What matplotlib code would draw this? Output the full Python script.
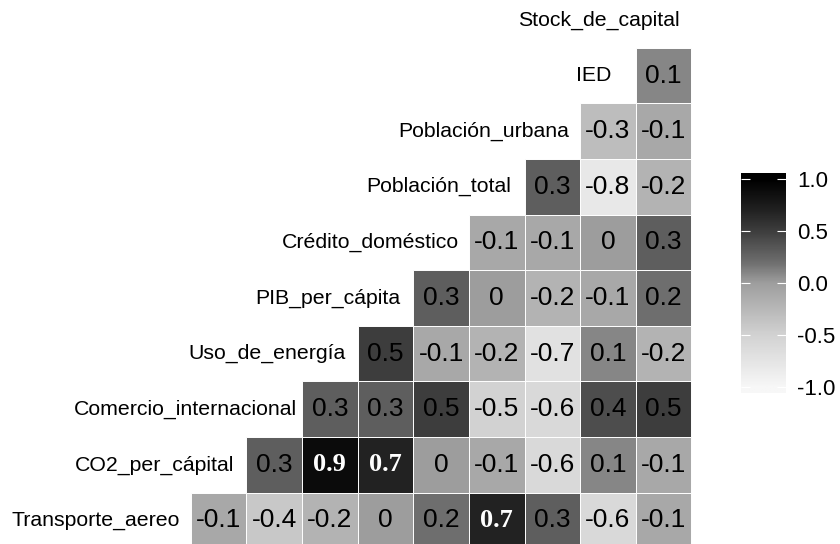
import numpy as np
import matplotlib
matplotlib.use("Agg")
import matplotlib.pyplot as plt
from matplotlib.colors import LinearSegmentedColormap
from matplotlib.transforms import ScaledTranslation

# variable names, bottom row first (diagonal order)
variables = ["Transporte_aereo", "CO2_per_cápital", "Comercio_internacional",
             "Uso_de_energía", "PIB_per_cápita", "Crédito_doméstico",
             "Población_total", "Población_urbana", "IED", "Stock_de_capital"]

# correlations of each variable with the ones after it (upper part of the matrix)
transporte = [-0.1, -0.4, -0.2, 0, 0.2, 0.7, 0.3, -0.6, -0.1]
co2 = [0.3, 0.9, 0.7, 0, -0.1, -0.6, 0.1, -0.1]
comercio = [0.3, 0.3, 0.5, -0.5, -0.6, 0.4, 0.5]
uso_energia = [0.5, -0.1, -0.2, -0.7, 0.1, -0.2]
pib = [0.3, 0, -0.2, -0.1, 0.2]
credito = [-0.1, -0.1, 0, 0.3]
pob_total = [0.3, -0.8, -0.2]
pob_urbana = [-0.3, -0.1]
ied = [0.1]
corr_rows = [transporte, co2, comercio, uso_energia, pib, credito,
             pob_total, pob_urbana, ied, []]

legend_ticks = [-1.0, -0.5, 0.0, 0.5, 1.0]

# grey scale: white (-1) -> grey (0) -> black (1)
cmap = LinearSegmentedColormap.from_list(
    "greys_div",
    [(0.0, "#f7f7f7"), (0.25, "#d2d2d2"), (0.5, "#9e9e9e"),
     (0.6, "#6e6e6e"), (0.75, "#3e3e3e"), (0.85, "#222222"), (1.0, "#000000")])
norm = plt.Normalize(-1, 1)

fig = plt.figure(figsize=(8.4, 5.44), dpi=100)
ax = fig.add_axes([0, 0, 1, 1])
ax.set_xlim(-1.933, 13.174)
ax.set_ylim(0.577, 10.361)
ax.axis("off")

for i, row in enumerate(corr_rows):
    r = i + 1
    for k, v in enumerate(row):
        c = r + 1 + k
        ax.add_patch(plt.Rectangle((c - 0.5, r - 0.5), 1, 1,
                                   facecolor=cmap(norm(v)), edgecolor="white",
                                   linewidth=0.7))
        txt = f"{v:g}"
        if v >= 0.7:
            ax.text(c, r, txt, ha="center", va="center", color="white",
                    fontsize=19, fontweight="bold", family="Liberation Serif")
        else:
            ax.text(c, r, txt, ha="center", va="center", color="black",
                    fontsize=19, family="Liberation Sans")

# diagonal labels, hjust ~0.9 like ggcorr
renderer = fig.canvas.get_renderer()
for i, name in enumerate(variables):
    t = ax.text(i + 1, i + 1, name, ha="right", va="center",
                fontsize=15.3, family="Liberation Sans", color="black")
    w = t.get_window_extent(renderer).width
    t.set_transform(ax.transData + ScaledTranslation(0.1 * w / fig.dpi, 0,
                                                     fig.dpi_scale_trans))

# colour bar
cax = fig.add_axes([741 / 840, 1 - 393 / 544, 45 / 840, 220 / 544])
lim = 1.058
grad = np.linspace(-lim, lim, 300).reshape(-1, 1)
cax.imshow(grad, cmap=cmap, norm=norm, aspect="auto", origin="lower",
           extent=[0, 1, -lim, lim])
cax.set_xlim(0, 1)
cax.set_ylim(-lim, lim)
for s in cax.spines.values():
    s.set_visible(False)
cax.set_xticks([])
cax.set_yticks(legend_ticks)
cax.set_yticklabels([f"{t:.1f}" for t in legend_ticks],
                    fontsize=16, family="Liberation Sans")
cax.tick_params(axis="y", direction="in", length=6.5, width=0.8,
                color="white", left=True, right=True,
                labelleft=False, labelright=True, pad=8)

fig.savefig("out.png", dpi=100)
